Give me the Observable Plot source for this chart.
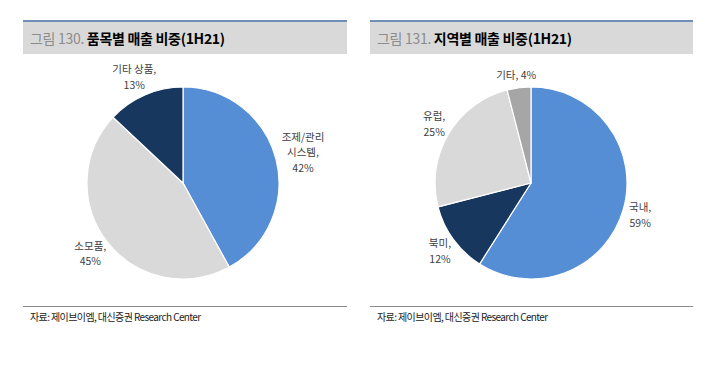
<!DOCTYPE html>
<html>
<head>
<meta charset="utf-8">
<script src="https://cdn.jsdelivr.net/npm/d3@7"></script>
<script src="https://cdn.jsdelivr.net/npm/@observablehq/plot@0.6"></script>
<style>
  html, body { margin: 0; padding: 0; background: #fff; }
  #root { position: relative; width: 720px; height: 367px; overflow: hidden;
          font-family: "Noto Sans CJK KR", "Noto Sans", sans-serif; }
  .hdr { position: absolute; top: 20px; height: 34px; background: #d9d9d9;
         border-top: 2px solid #6f8fb8; box-sizing: border-box; }
  .hdr span.t { position: absolute; left: 7px; top: 6px; font-size: 14px; letter-spacing: -0.3px; }
  .hdr .num { color: #8c8c8c; }
  .hdr .ttl { color: #000; font-weight: bold; }
  .ftr { position: absolute; top: 306px; height: 20px; border-top: 1.5px solid #8a8a8a; box-sizing: border-box; }
  .ftr span { position: absolute; left: 7px; top: 2px; font-size: 10px; color: #222; letter-spacing: -0.6px; }
  .pie { position: absolute; overflow: visible; }
</style>
</head>
<body>
<div id="root"></div>
<script>
// ---- data ----
const titles1 = ["그림 130.", "품목별 매출 비중(1H21)"];
const titles2 = ["그림 131.", "지역별 매출 비중(1H21)"];
const sourceText = "자료: 제이브이엠, 대신증권 Research Center";

const cats1 = ["조제/관리\n시스템,", "소모품,", "기타 상품,"];
const vals1 = [42, 45, 13];
const colors1 = ["#558ed5", "#d9d9d9", "#17375e"];

const cats2 = ["국내,", "북미,", "유럽,", "기타,"];
const vals2 = [59, 12, 25, 4];
const colors2 = ["#558ed5", "#17375e", "#d9d9d9", "#a6a6a6"];
const oneLine2 = [false, false, false, true];

const root = document.getElementById("root");
const FS = 10.5;
const FONT = FS + "px 'Noto Sans CJK KR', sans-serif";
const LINE = 15.5;
const ctx = document.createElement("canvas").getContext("2d");
ctx.font = FONT;

function panel(left, width, titles) {
  const h = document.createElement("div");
  h.className = "hdr";
  h.style.left = left + "px"; h.style.width = width + "px";
  h.innerHTML = `<span class="t"><span class="num">${titles[0]}</span> <span class="ttl">${titles[1]}</span></span>`;
  root.appendChild(h);
  const f = document.createElement("div");
  f.className = "ftr";
  f.style.left = left + "px"; f.style.width = width + "px";
  f.innerHTML = `<span>${sourceText}</span>`;
  root.appendChild(f);
}

function pieChart(cats, vals, colors, left, top, oneLineLabels) {
  const W = 320, H = 250, R = 96, GAP = 6;
  const pie = d3.pie().sort(null).value(d => d)(vals);
  // one row per text line, label box placed just outside the slice's mid-angle
  const rows = [];
  pie.forEach((p, i) => {
    const a = (p.startAngle + p.endAngle) / 2;
    const txt = oneLineLabels && oneLineLabels[i] ? cats[i] + " " + vals[i] + "%" : cats[i] + "\n" + vals[i] + "%";
    const lines = txt.split("\n");
    const w = Math.max(...lines.map(l => ctx.measureText(l).width));
    const h = lines.length * 13.5;
    const s = Math.sin(a), c = Math.cos(a);
    const px = s * (R + GAP) + s * w / 2;      // pixels, right positive
    const py = -c * (R + GAP) - c * h / 2;     // pixels, down positive
    lines.forEach((l, j) => {
      rows.push({ x: px / R, y: -py / R, text: l, k: (j - (lines.length - 1) / 2) });
    });
  });
  const offsets = [...new Set(rows.map(r => r.k))];
  const half = W / 2 / R, halfH = H / 2 / R;
  const slices = (index, scales) => {
    const g = d3.create("svg:g");
    const cx = scales.x(0), cy = scales.y(0);
    const r = Math.abs(scales.x(1) - scales.x(0));
    const arc = d3.arc().innerRadius(0).outerRadius(r);
    g.attr("transform", `translate(${cx},${cy})`);
    g.selectAll("path").data(pie).join("path")
      .attr("d", arc)
      .attr("fill", (d, i) => colors[i])
      .attr("stroke", "#fff").attr("stroke-width", 1.2).attr("stroke-linejoin", "round");
    return g.node();
  };
  const chart = Plot.plot({
    width: W, height: H,
    margin: 0,
    x: { domain: [-half, half], axis: null },
    y: { domain: [-halfH, halfH], axis: null },
    style: { fontFamily: "'Noto Sans CJK KR', sans-serif", background: "transparent", overflow: "visible" },
    marks: [
      Plot.dot([{ x: 0, y: 0 }], { x: "x", y: "y", r: 0, stroke: "none" }),
      slices,
      ...offsets.map(k => Plot.text(rows.filter(r => r.k === k), {
        x: "x", y: "y", text: "text", dy: k * LINE,
        fontSize: FS, fill: "#404040", textAnchor: "middle"
      }))
    ]
  });
  chart.classList.add("pie");
  chart.style.left = left + "px";
  chart.style.top = top + "px";
  chart.style.overflow = "visible";
  root.appendChild(chart);
}

panel(23, 324, titles1);
panel(370, 323, titles2);
pieChart(cats1, vals1, colors1, 183 - 160, 183 - 125, null);
pieChart(cats2, vals2, colors2, 531 - 160, 183 - 125, oneLine2);
</script>
</body>
</html>
